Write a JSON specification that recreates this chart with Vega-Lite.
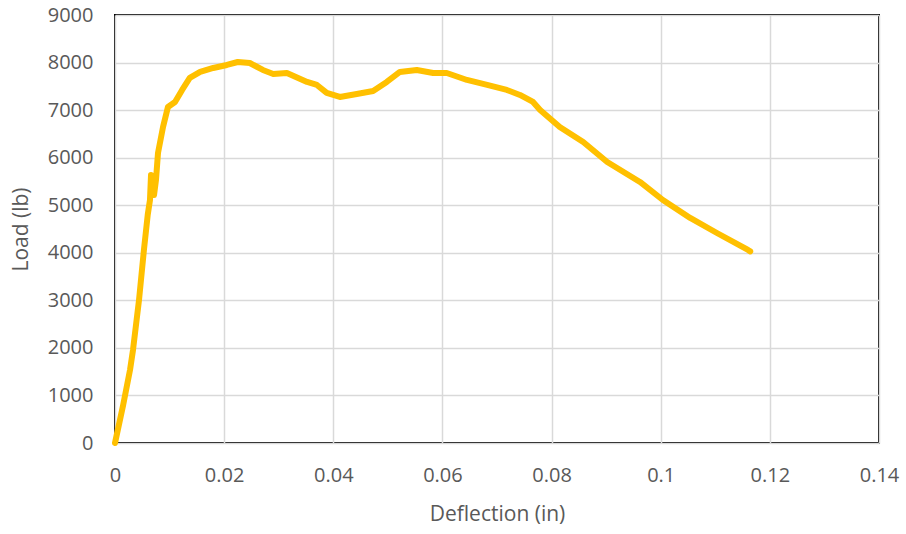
{
  "$schema": "https://vega.github.io/schema/vega-lite/v6.json",
  "width": 764,
  "height": 428,
  "autosize": "none",
  "padding": {"left": 115, "top": 15, "right": 27, "bottom": 91},
  "background": "white",
  "config": {
    "view": {"stroke": "#000000", "strokeWidth": 2},
    "font": "Open Sans",
    "axis": {
      "labelFont": "Open Sans",
      "titleFont": "Open Sans",
      "labelColor": "#595959",
      "titleColor": "#595959",
      "labelFontSize": 20,
      "titleFontSize": 21,
      "titleFontWeight": "normal",
      "gridColor": "#d9d9d9",
      "gridWidth": 1.5,
      "ticks": false,
      "domain": false,
      "labelFlush": false
    }
  },
  "data": {
    "values": [
      {"x": 0, "y": 0},
      {"x": 0.0015, "y": 800},
      {"x": 0.00275, "y": 1535},
      {"x": 0.0033, "y": 1956},
      {"x": 0.0044, "y": 3007},
      {"x": 0.0053, "y": 4058},
      {"x": 0.0060, "y": 4800},
      {"x": 0.00641, "y": 5110},
      {"x": 0.0066, "y": 5636},
      {"x": 0.00696, "y": 5594},
      {"x": 0.00715, "y": 5215},
      {"x": 0.00751, "y": 5531},
      {"x": 0.00788, "y": 6099},
      {"x": 0.0088, "y": 6646},
      {"x": 0.0097, "y": 7066},
      {"x": 0.0110, "y": 7171},
      {"x": 0.0123, "y": 7424},
      {"x": 0.0137, "y": 7676},
      {"x": 0.0156, "y": 7802},
      {"x": 0.0180, "y": 7886},
      {"x": 0.0205, "y": 7949},
      {"x": 0.0225, "y": 8012},
      {"x": 0.0247, "y": 7991},
      {"x": 0.0271, "y": 7844},
      {"x": 0.0290, "y": 7760},
      {"x": 0.0315, "y": 7781},
      {"x": 0.0352, "y": 7592},
      {"x": 0.0370, "y": 7529},
      {"x": 0.0388, "y": 7361},
      {"x": 0.0412, "y": 7277},
      {"x": 0.0443, "y": 7340},
      {"x": 0.0473, "y": 7403},
      {"x": 0.0498, "y": 7592},
      {"x": 0.0522, "y": 7802},
      {"x": 0.0553, "y": 7844},
      {"x": 0.0583, "y": 7781},
      {"x": 0.0608, "y": 7781},
      {"x": 0.0645, "y": 7634},
      {"x": 0.0682, "y": 7529},
      {"x": 0.0718, "y": 7424},
      {"x": 0.0742, "y": 7319},
      {"x": 0.0766, "y": 7171},
      {"x": 0.0779, "y": 7003},
      {"x": 0.0815, "y": 6646},
      {"x": 0.0858, "y": 6330},
      {"x": 0.0902, "y": 5910},
      {"x": 0.0962, "y": 5489},
      {"x": 0.1004, "y": 5110},
      {"x": 0.1054, "y": 4732},
      {"x": 0.1103, "y": 4416},
      {"x": 0.1160, "y": 4059},
      {"x": 0.1164, "y": 4030}
    ]
  },
  "mark": {"type": "line", "color": "#FFC000", "strokeWidth": 6, "strokeCap": "round", "strokeJoin": "round"},
  "encoding": {
    "x": {
      "field": "x",
      "type": "quantitative",
      "scale": {"domain": [0, 0.14], "nice": false, "zero": true},
      "axis": {
        "title": "Deflection (in)",
        "values": [0, 0.02, 0.04, 0.06, 0.08, 0.1, 0.12, 0.14],
        "format": "~g",
        "labelPadding": 22,
        "titlePadding": 18
      }
    },
    "y": {
      "field": "y",
      "type": "quantitative",
      "scale": {"domain": [0, 9000], "nice": false},
      "axis": {
        "title": "Load (lb)",
        "values": [0, 1000, 2000, 3000, 4000, 5000, 6000, 7000, 8000, 9000],
        "format": "d",
        "labelPadding": 22,
        "titlePadding": 16
      }
    }
  }
}
